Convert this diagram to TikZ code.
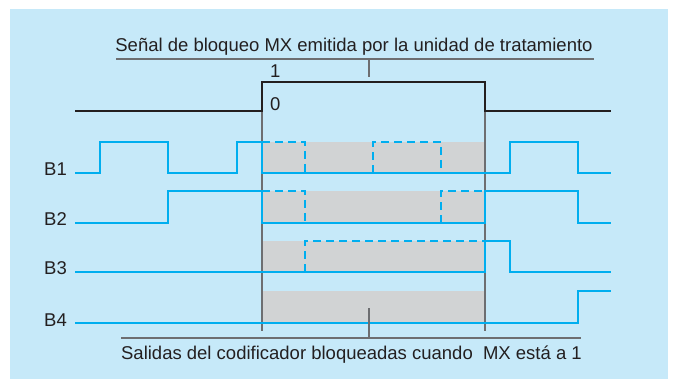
\documentclass[tikz,border=0pt]{standalone}
\usepackage{fontspec}
\setmainfont{Liberation Sans}
\definecolor{fondo}{HTML}{C6E9F9}
\definecolor{cian}{HTML}{00AEEF}
\definecolor{sombra}{HTML}{D1D3D4}
\definecolor{guia}{HTML}{6D6E71}
\definecolor{tinta}{HTML}{231F20}
\tikzset{
	senal/.style={draw=cian, line width=2.2pt},
	senalpunt/.style={senal, dash pattern=on 8pt off 5pt},
	mx/.style={draw=tinta, line width=2.4pt},
	guialinea/.style={draw=guia, line width=1.4pt},
	rotulo/.style={text=tinta, inner sep=0pt, font=\fontsize{18.5}{22}\selectfont},
}
\begin{document}
\begin{tikzpicture}[x=1pt, y=-1pt, line join=miter]
	\useasboundingbox (0,0) rectangle (677,379);
	\fill[fondo] (10,9) rectangle (668,379);
	% zonas bloqueadas
	\foreach \alto/\bajo in {142/173, 191/223, 241/272, 291/323}
		\fill[sombra] (262,\alto) rectangle (485,\bajo);
	% limites del bloqueo
	\draw[guialinea] (262,111) -- (262,331);
	\draw[guialinea] (485,111) -- (485,331);
	% titulo superior
	\node[rotulo, anchor=base] (titulo) at (354,52)
		{Señal de bloqueo MX emitida por la unidad de tratamiento};
	\draw[guialinea] (116,59) -- (594,59);
	\draw[guialinea] (369,59) -- (369,77);
	% senal MX
	\draw[mx] (75,111) -- (262,111) -- (262,82) -- (485,82) -- (485,111) -- (611,111);
	\node[rotulo, anchor=base west] (uno) at (270,78) {1};
	\node[rotulo, anchor=base west] (cero) at (270,111) {0};
	% salidas B1..B4
	\foreach \nombre/\nivel in {B1/173, B2/223, B3/272, B4/323}
		\node[rotulo, anchor=base east] (\nombre) at (67,\nivel+3) {\nombre};
	\draw[senal] (75,173) -- (100,173) -- (100,142) -- (168,142) -- (168,173)
		-- (237,173) -- (237,142) -- (262,142) -- (262,173) -- (510,173)
		-- (510,142) -- (578,142) -- (578,173) -- (611,173);
	\draw[senalpunt] (262,142) -- (305,142) -- (305,173);
	\draw[senalpunt] (373,173) -- (373,142) -- (441,142) -- (441,173);
	\draw[senal] (75,223) -- (168,223) -- (168,191) -- (262,191) -- (262,223)
		-- (485,223) -- (485,191) -- (578,191) -- (578,223) -- (611,223);
	\draw[senalpunt] (262,191) -- (305,191) -- (305,223);
	\draw[senalpunt] (441,223) -- (441,191) -- (485,191);
	\draw[senal] (75,272) -- (485,272) -- (485,241) -- (510,241) -- (510,272) -- (611,272);
	\draw[senalpunt] (305,272) -- (305,241) -- (485,241);
	\draw[senal] (75,323) -- (578,323) -- (578,291) -- (611,291);
	% pie
	\draw[guialinea] (369,308) -- (369,338);
	\draw[guialinea] (121,338) -- (581,338);
	\node[rotulo, anchor=base] (pie) at (351.5,359)
		{Salidas del codificador bloqueadas cuando\ \ MX está a 1};
\end{tikzpicture}
\end{document}
